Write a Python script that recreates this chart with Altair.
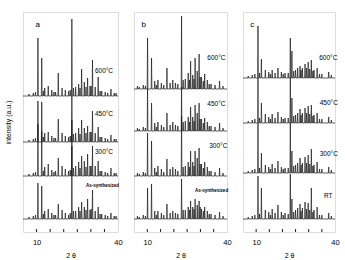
import altair as alt
import pandas as pd

# ---------------- data ----------------
# panel a
a_pos = [8.8, 10.5, 11.9, 13.0, 14.3, 15.6, 17.0, 18.0, 19.4, 20.6, 21.8, 23.0, 24.4, 25.5,
         26.6, 27.6, 28.8, 29.7, 30.6, 31.6, 32.7, 34.0, 35.3, 36.2, 37.4, 38.6]
a_600 = [3, 58, 38, 8, 10, 6, 4, 23, 8, 6, 5, 77, 9, 12, 27, 14, 18, 10, 36, 9, 19, 5, 4, 3, 7, 3]
a_450 = [3, 41, 40, 9, 10, 6, 4, 23, 9, 6, 5, 46, 9, 14, 22, 14, 16, 10, 31, 9, 15, 5, 4, 3, 7, 3]
a_300 = [3, 52, 45, 9, 12, 6, 5, 18, 10, 7, 5, 56, 10, 14, 20, 15, 22, 10, 30, 10, 15, 5, 4, 3, 8, 3]
a_as = [3, 36, 33, 8, 10, 6, 4, 15, 9, 6, 4, 73, 8, 12, 17, 12, 20, 9, 29, 8, 12, 5, 4, 3, 6, 3]
a_minor_pos = [7.2, 9.6, 12.5, 16.4, 22.4, 23.6, 26.0, 28.2, 30.1, 33.4, 39.3]
a_minor_h = [2, 4, 5, 4, 6, 8, 8, 9, 10, 5, 3]
a_offsets = [136, 90, 56, 13]

# panel b
b_pos = [8.5, 10.1, 11.6, 12.8, 14.0, 15.3, 17.4, 18.6, 19.6, 20.6, 22.9, 24.3, 25.4, 26.3,
         27.1, 28.0, 28.8, 29.5, 30.4, 31.6, 32.6, 34.0, 35.5, 37.2]
b_600 = [4, 51, 31, 8, 9, 6, 21, 6, 9, 6, 73, 10, 16, 28, 14, 31, 18, 35, 12, 15, 9, 5, 4, 8]
b_450 = [4, 42, 28, 8, 9, 6, 18, 6, 9, 6, 44, 10, 14, 24, 14, 26, 18, 28, 12, 13, 9, 5, 4, 8]
b_300 = [4, 43, 35, 8, 10, 7, 17, 7, 9, 7, 60, 10, 14, 25, 14, 25, 18, 28, 12, 14, 9, 5, 4, 8]
b_as = [4, 31, 35, 8, 8, 6, 15, 6, 8, 6, 40, 9, 12, 18, 12, 20, 14, 18, 10, 12, 8, 5, 4, 7]
b_minor_pos = [6.3, 7.0, 9.3, 13.4, 16.2, 21.5, 23.5, 25.9, 27.6, 29.9, 31.1, 33.3, 38.5]
b_minor_h = [3, 2, 3, 4, 4, 5, 9, 9, 10, 12, 8, 5, 3]
b_offsets = [143, 101, 56, 13]

# panel c
c_pos = [8.5, 10.7, 12.0, 13.5, 14.8, 16.1, 17.2, 18.3, 19.6, 21.0, 23.0, 23.6, 25.0, 25.8,
         26.7, 27.6, 28.6, 29.8, 31.0, 32.0, 33.2, 35.0, 37.6]
c_600 = [3, 52, 19, 8, 6, 8, 5, 10, 6, 5, 40, 27, 8, 10, 12, 10, 14, 16, 18, 8, 10, 4, 6]
c_450 = [3, 45, 20, 9, 6, 9, 5, 11, 6, 5, 45, 25, 8, 10, 14, 10, 15, 17, 18, 8, 10, 4, 6]
c_300 = [3, 50, 20, 8, 6, 9, 5, 12, 6, 5, 50, 22, 8, 10, 15, 10, 16, 18, 24, 8, 11, 4, 6]
c_rt = [3, 43, 31, 9, 7, 10, 6, 14, 7, 6, 45, 20, 9, 11, 15, 11, 17, 16, 31, 9, 12, 4, 6]
c_minor_pos = [7.0, 9.5, 11.3, 15.4, 20.3, 22.2, 24.3, 27.1, 29.2, 30.4, 31.6, 34.1, 38.6]
c_minor_h = [2, 4, 5, 4, 4, 5, 7, 8, 10, 9, 7, 4, 3]
c_offsets = [154, 109, 59, 13]

# trace labels
a_labels = ["600°C", "450°C", "300°C", "As-synthesized"]
a_lab_x = [31.5, 31.5, 31.5, 28.2]
a_lab_y = [161, 118, 80, 46]
b_labels = ["600°C", "450°C", "300°C", "As-synthesized"]
b_lab_x = [32.6, 32.6, 33.3, 28.0]
b_lab_y = [174, 128, 86, 41]
c_labels = ["600°C", "450°C", "300°C", "RT"]
c_lab_x = [34.0, 34.2, 34.2, 35.8]
c_lab_y = [174, 129, 78, 36]

tick_positions = [10, 15, 20, 25, 30, 35]
half_width = 0.14


def build_lines(pos, series, minor_pos, minor_h, offsets, names):
    rows = []
    for s, off, nm in zip(series, offsets, names):
        pts = [(5.0, off)]
        peaks = list(zip(pos, s)) + list(zip(minor_pos, minor_h))
        for p, h in sorted(peaks):
            pts += [(p - half_width, off), (p, off + h), (p + half_width, off)]
        pts.append((40.0, off))
        for i, (x, y) in enumerate(pts):
            rows.append({"trace": nm, "x": x, "y": y, "o": i})
    return pd.DataFrame(rows)


FONT = "Liberation Sans"
XS = alt.Scale(domain=[5, 40], nice=False, zero=False)
YS = alt.Scale(domain=[0, 220], nice=False, zero=False)


def panel(letter, letter_x, pos, series, minor_pos, minor_h, offsets, names, labx, laby,
          width, yaxis):
    df = build_lines(pos, series, minor_pos, minor_h, offsets, names)
    xaxis = alt.Axis(values=[10, 20, 30, 40], domain=False, ticks=False, grid=False,
                     labelFontSize=7.5, labelFont=FONT, labelPadding=6, labelFlush=False,
                     labelOverlap=False, labelColor="black",
                     title="2 θ", titleFontSize=7, titleFont=FONT, titleFontWeight="normal",
                     titlePadding=6, titleColor="black")
    lines = alt.Chart(df).mark_line(color="#1a1a1a", strokeWidth=0.7).encode(
        x=alt.X("x:Q", scale=XS, axis=xaxis),
        y=alt.Y("y:Q", scale=YS, axis=yaxis),
        detail="trace:N",
        order="o:Q",
    )
    tdf = pd.DataFrame({"x": tick_positions, "y0": [0] * len(tick_positions),
                        "y1": [3] * len(tick_positions)})
    ticks = alt.Chart(tdf).mark_rule(color="black", strokeWidth=0.9).encode(
        x="x:Q", y="y0:Q", y2="y1:Q")
    ldf = pd.DataFrame({"x": labx, "y": laby, "t": names})
    big = alt.Chart(ldf).transform_filter(alt.datum.t != "As-synthesized").mark_text(
        align="left", baseline="middle", font=FONT, fontSize=6.5, fill="black").encode(
        x="x:Q", y="y:Q", text="t:N")
    small = alt.Chart(ldf).transform_filter(alt.datum.t == "As-synthesized").mark_text(
        align="left", baseline="middle", font=FONT, fontSize=4.5, fontWeight="bold",
        fill="black").encode(x="x:Q", y="y:Q", text="t:N")
    pdf = pd.DataFrame({"x": [letter_x], "y": [207], "t": [letter]})
    plab = alt.Chart(pdf).mark_text(align="center", baseline="middle", font=FONT,
                                    fontSize=8, fill="black").encode(
        x="x:Q", y="y:Q", text="t:N")
    return alt.layer(lines, ticks, big, small, plab).properties(width=width, height=220)


ya = alt.Axis(title="intensity (a.u.)", labels=False, ticks=False, domain=False, grid=False,
              titleFontSize=7, titleFont=FONT, titleFontWeight="normal", titlePadding=12,
              titleColor="black")

pa = panel("a", 10.4, a_pos, [a_600, a_450, a_300, a_as], a_minor_pos, a_minor_h,
           a_offsets, a_labels, a_lab_x, a_lab_y, 95, ya)
pb = panel("b", 8.7, b_pos, [b_600, b_450, b_300, b_as], b_minor_pos, b_minor_h,
           b_offsets, b_labels, b_lab_x, b_lab_y, 93, None)
pc = panel("c", 8.5, c_pos, [c_600, c_450, c_300, c_rt], c_minor_pos, c_minor_h,
           c_offsets, c_labels, c_lab_x, c_lab_y, 92, None)

chart = alt.hconcat(pa, pb, pc, spacing=16, bounds="flush").properties(
    padding={"left": 3, "top": 11, "right": 0, "bottom": 0},
).configure_view(stroke="black", strokeWidth=1).configure(background="white")

chart.save("out.html", embed_options={"renderer": "svg", "actions": False})
